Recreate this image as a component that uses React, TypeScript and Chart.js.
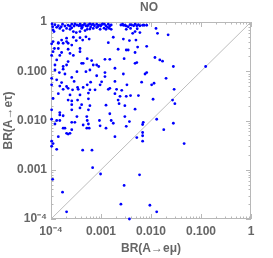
import React, { useEffect, useRef } from "react";
import { Chart, registerables } from "chart.js";

Chart.register(...registerables);

const chartTitle = "NO";
const xAxisTitle = "BR(A→eμ)";
const yAxisTitle = "BR(A→eτ)";
const tickValues = [1e-4, 1e-3, 1e-2, 1e-1, 1];
const tickLabels = ["10⁻⁴", "0.001", "0.010", "0.100", "1"];

// BR(A→eμ)
const brEMu = [
  1.05e-4, 1.08e-4, 1.4e-4, 1.6e-4, 1.9e-4, 2.2e-4, 2.6e-4, 2.9e-4, 3.3e-4, 3.6e-4,
  4.0e-4, 4.4e-4, 5.0e-4, 5.6e-4, 6.0e-4, 6.5e-4, 7.4e-4, 8.2e-4, 9.8e-4, 1.08e-3,
  1.17e-3, 1.26e-3, 1.36e-3, 1.5e-3, 1.6e-3, 2.5e-3, 2.8e-3, 3.2e-3, 3.5e-3, 4.1e-3,
  4.8e-3, 5.2e-3, 6.0e-3, 6.8e-3, 8.2e-3,
  1.2e-4, 1.7e-4, 2.4e-4, 3.0e-4, 3.8e-4, 4.7e-4, 5.3e-4, 7.0e-4, 9.0e-4, 1.02e-3,
  1.4e-3, 2.7e-3, 3.0e-3, 3.8e-3, 4.5e-3, 5.6e-3, 7.3e-3, 1.3e-4, 2.6e-4, 4.2e-4,
  6.2e-4, 8.6e-4, 1.15e-3,
  1.1e-4, 1.15e-4, 1.5e-4, 1.75e-4, 2.05e-4, 2.4e-4, 2.8e-4, 3.2e-4, 3.8e-4, 4.1e-4,
  4.8e-4, 5.3e-4, 6.0e-4, 7.0e-4, 8.2e-4, 9.6e-4, 1.26e-3, 1.47e-3, 1.6e-3, 3.2e-3,
  3.9e-3, 4.3e-3, 4.8e-3, 6.0e-3, 5.3e-3, 1.26e-2, 1.35e-2, 2.2e-2,
  2.8e-3, 1.76e-3, 5.0e-4, 3.8e-4, 2.8e-4, 2.05e-4, 1.63e-4, 1.1e-4, 1.4e-4, 2.05e-4,
  3.2e-4, 4.3e-4, 5.8e-4, 1.4e-3, 3.7e-3, 5.0e-3, 5.4e-3, 8.2e-3, 3.2e-3, 3.5e-3,
  4.8e-3, 1.03e-4, 1.4e-4, 1.75e-4, 2.2e-4, 2.6e-4, 1.17e-4, 1.4e-4, 2.2e-4, 3.8e-4,
  1.1e-4, 1.63e-4, 2.4e-4, 3.8e-4, 2.2e-3,
  1.2e-2, 1.5e-2, 1.7e-2, 5.2e-3, 4.8e-3, 1.5e-3, 1.2e-3, 2.9e-3, 1.03e-4, 1.5e-4,
  2.8e-4, 1.3e-4, 2.2e-4, 4.1e-4, 5.3e-4, 6.5e-4, 7.0e-4, 1.2e-4, 1.75e-4, 2.05e-4,
  4.4e-4, 8.2e-4, 9.0e-4, 1.9e-3, 2.8e-2, 0.124,
  1.2e-4, 1.75e-4, 3.3e-4, 6.0e-4, 8.2e-3, 1.47e-4, 1.9e-4, 5.0e-4, 1.2e-3, 8.2e-4,
  1.2e-3, 2.8e-3, 7.6e-3, 2.0e-2, 2.6e-4, 1.03e-4, 2.9e-4, 5.3e-4, 6.2e-4, 1.03e-3,
  1.9e-3, 1.15e-2, 1.3e-4, 1.63e-4,
  1.03e-4, 1.5e-4, 2.05e-4, 2.2e-4, 3.4e-4, 4.4e-4, 9.6e-4, 1.4e-3, 1.5e-3, 3.3e-3,
  6.5e-3, 1.03e-2, 1.75e-4, 2.7e-4, 3.5e-4, 6.0e-4, 7.6e-4, 2.05e-3, 2.6e-3, 2.9e-2,
  1.1e-4, 1.4e-4, 2.4e-4, 3.8e-4, 5.6e-4, 1.9e-3, 2.4e-3, 3.2e-3, 3.9e-3, 5.6e-3,
  1.1e-2, 2.7e-2, 3.0e-2,
  2.2e-4, 2.6e-4, 3.4e-4, 5.6e-4, 2.2e-3, 2.6e-4, 4.1e-4, 6.0e-4, 1.26e-3, 2.3e-3,
  3.0e-3, 1.03e-4, 1.5e-4, 2.6e-4, 3.8e-4, 5.6e-4, 4.8e-3, 1.5e-4, 1.75e-4, 3.3e-4,
  5.2e-4, 1.5e-3, 3.0e-3,
  1.03e-4, 1.3e-4, 1.5e-4, 2.6e-4, 3.0e-4, 5.3e-4, 9.3e-4, 1.6e-3, 3.7e-3, 7.0e-3,
  1.3e-2, 6.8e-3, 2.8e-2, 1.2e-4, 4.4e-4, 5.6e-4, 9.6e-4, 1.76e-3, 3.2e-3, 1.75e-4,
  1.9e-4, 2.6e-4, 5.2e-4, 5.8e-4, 1.26e-3, 1.8e-2, 1.4e-4, 2.05e-4, 2.2e-4, 2.4e-4,
  1.9e-3, 5.2e-3, 6.8e-3, 6.8e-3, 6.8e-3,
  1.03e-4, 1.1e-4, 4.6e-2, 1.03e-4, 1.3e-4, 4.3e-4, 6.6e-4, 6.8e-4, 9.8e-4, 5.9e-3,
  1.08e-4, 2.9e-3, 1.7e-4, 2.5e-3, 9.5e-3, 2.05e-4, 1.3e-2, 3.7e-3,
];

// BR(A→eτ)
const brETau = [
  0.91, 0.80, 0.84, 0.80, 0.83, 0.86, 0.90, 0.83, 0.87, 0.84,
  0.84, 0.86, 0.84, 0.88, 0.91, 0.88, 0.84, 0.90, 0.83, 0.91,
  0.90, 0.83, 0.78, 0.83, 0.87, 0.87, 0.86, 0.83, 0.80, 0.87,
  0.90, 0.84, 0.84, 0.86, 0.86,
  0.88, 0.90, 0.82, 0.91, 0.90, 0.92, 0.82, 0.90, 0.86, 0.88,
  0.90, 0.90, 0.86, 0.88, 0.84, 0.88, 0.86, 0.78, 0.76, 0.78,
  0.79, 0.80, 0.75,
  0.69, 0.64, 0.74, 0.67, 0.74, 0.71, 0.64, 0.61, 0.64, 0.74,
  0.67, 0.71, 0.72, 0.74, 0.77, 0.71, 0.71, 0.74, 0.71, 0.71,
  0.74, 0.59, 0.64, 0.61, 0.73, 0.74, 0.59, 0.55,
  0.45, 0.49, 0.50, 0.48, 0.49, 0.47, 0.43, 0.40, 0.38, 0.40,
  0.42, 0.43, 0.45, 0.38, 0.42, 0.43, 0.31, 0.32, 0.27, 0.27,
  0.24, 0.36, 0.37, 0.37, 0.37, 0.34, 0.29, 0.29, 0.28, 0.29,
  0.25, 0.24, 0.23, 0.25, 0.28,
  0.19, 0.17, 0.16, 0.15, 0.145, 0.175, 0.175, 0.18, 0.21, 0.21,
  0.21, 0.17, 0.157, 0.145, 0.18, 0.165, 0.134, 0.134, 0.125, 0.134,
  0.145, 0.134, 0.125, 0.115, 0.125, 0.125,
  0.106, 0.11, 0.098, 0.106, 0.094, 0.094, 0.088, 0.098, 0.094, 0.081,
  0.078, 0.088, 0.088, 0.072, 0.075, 0.072, 0.062, 0.053, 0.06, 0.061,
  0.062, 0.057, 0.067, 0.059,
  0.053, 0.05, 0.049, 0.045, 0.047, 0.047, 0.053, 0.043, 0.045, 0.053,
  0.06, 0.053, 0.043, 0.042, 0.043, 0.042, 0.042, 0.043, 0.041, 0.043,
  0.028, 0.035, 0.033, 0.033, 0.036, 0.035, 0.031, 0.031, 0.032, 0.032,
  0.027, 0.026, 0.022,
  0.026, 0.025, 0.026, 0.0275, 0.026, 0.021, 0.021, 0.02, 0.0205, 0.022,
  0.02, 0.0165, 0.0145, 0.0165, 0.018, 0.0165, 0.017, 0.013, 0.0125, 0.012,
  0.012, 0.0137, 0.012,
  0.0106, 0.01, 0.01, 0.0092, 0.0092, 0.01, 0.01, 0.01, 0.0095, 0.0092,
  0.0106, 0.0083, 0.0088, 0.0085, 0.0081, 0.0085, 0.0078, 0.0088, 0.0076, 0.007,
  0.007, 0.0065, 0.007, 0.007, 0.007, 0.0065, 0.0047, 0.0055, 0.0053, 0.0055,
  0.0047, 0.0045, 0.0057, 0.0049, 0.0038,
  0.0038, 0.0034, 0.0034, 0.003, 0.0026, 0.0025, 0.0025, 0.0011, 8.2e-4, 7.9e-4,
  6.4e-4, 4.8e-4, 3.5e-4, 2.0e-4, 1.9e-4, 1.4e-4, 1.4e-4, 1.0e-4,
];

const diagonalX = [1e-4, 1];
const diagonalY = [1e-4, 1];

const FONT = "'Liberation Sans', Arial, sans-serif";
const TEXT = "#666666";
const FRAME = "#b8b8b8";

const framePlugin = {
  id: "framePlugin",
  beforeDatasetsDraw(chart: any) {
    const { ctx, chartArea, scales } = chart;
    const { left, right, top, bottom } = chartArea;
    ctx.save();
    ctx.strokeStyle = FRAME;
    ctx.lineWidth = 1;
    ctx.strokeRect(left + 0.5, top + 0.5, right - left - 1, bottom - top - 1);
    const minor: number[] = [];
    for (let d = -4; d < 0; d++) {
      for (let m = 2; m <= 9; m++) minor.push(m * Math.pow(10, d));
    }
    const drawTicks = (vals: number[], len: number) => {
      ctx.beginPath();
      for (const v of vals) {
        const px = Math.round(scales.x.getPixelForValue(v)) + 0.5;
        ctx.moveTo(px, bottom);
        ctx.lineTo(px, bottom - len);
        ctx.moveTo(px, top);
        ctx.lineTo(px, top + len);
        const py = Math.round(scales.y.getPixelForValue(v)) + 0.5;
        ctx.moveTo(left, py);
        ctx.lineTo(left + len, py);
        ctx.moveTo(right, py);
        ctx.lineTo(right - len, py);
      }
      ctx.stroke();
    };
    drawTicks(tickValues, 5);
    drawTicks(minor, 2.5);
    ctx.restore();
  },
  afterDraw(chart: any) {
    const { ctx, chartArea } = chart;
    ctx.save();
    ctx.fillStyle = TEXT;
    ctx.font = `bold 12px ${FONT}`;
    ctx.textAlign = "center";
    ctx.textBaseline = "middle";
    ctx.fillText(chartTitle, (chartArea.left + chartArea.right) / 2 - 2, 8);
    ctx.restore();
  },
};

export default function App() {
  const ref = useRef<HTMLCanvasElement | null>(null);
  useEffect(() => {
    if (!ref.current) return;
    const points = brEMu.map((x, i) => ({ x, y: brETau[i] }));
    const diag = diagonalX.map((x, i) => ({ x, y: diagonalY[i] }));
    const tickFmt = (v: any) => {
      const i = tickValues.findIndex((t) => Math.abs(Math.log10(t) - Math.log10(Number(v))) < 1e-6);
      return i >= 0 ? tickLabels[i] : "";
    };
    const setTicks = (scale: any) => {
      scale.ticks = tickValues.map((v) => ({ value: v }));
    };
    const chart = new Chart(ref.current, {
      type: "scatter",
      data: {
        datasets: [
          {
            data: points,
            backgroundColor: "#0000ff",
            borderWidth: 0,
            pointRadius: 1.4,
            pointHoverRadius: 1.4,
            clip: false as any,
          },
          {
            type: "line" as any,
            data: diag,
            borderColor: "#bdbdbd",
            borderWidth: 1,
            pointRadius: 0,
            showLine: true,
            fill: false,
          },
        ],
      },
      options: {
        animation: false,
        responsive: false,
        layout: { padding: { top: 22, right: 22, left: 0, bottom: 0 } },
        plugins: { legend: { display: false }, tooltip: { enabled: false }, title: { display: false } },
        scales: {
          x: {
            type: "logarithmic",
            min: 1e-4,
            max: 1,
            afterBuildTicks: setTicks,
            afterFit: (s: any) => { s.height = 39; },
            grid: { display: false, drawTicks: false },
            border: { display: false },
            ticks: {
              callback: tickFmt,
              autoSkip: false,
              maxRotation: 0,
              padding: 5,
              color: TEXT,
              font: { family: FONT, size: 12, weight: "bold" },
            },
            title: {
              display: true,
              text: xAxisTitle,
              color: TEXT,
              font: { family: FONT, size: 12, weight: "bold" },
              padding: { top: 0, bottom: 2 },
            },
          },
          y: {
            type: "logarithmic",
            min: 1e-4,
            max: 1,
            afterBuildTicks: setTicks,
            afterFit: (s: any) => { s.width = 51; },
            grid: { display: false, drawTicks: false },
            border: { display: false },
            ticks: {
              callback: tickFmt,
              autoSkip: false,
              padding: 4,
              color: TEXT,
              font: { family: FONT, size: 12, weight: "bold" },
            },
            title: {
              display: true,
              text: yAxisTitle,
              color: TEXT,
              font: { family: FONT, size: 12, weight: "bold" },
              padding: { top: 1, bottom: 0 },
            },
          },
        },
      },
      plugins: [framePlugin],
    } as any);
    return () => chart.destroy();
  }, []);
  return (
    <div style={{ position: "absolute", left: 0, top: 0, width: 273, height: 258, background: "#fff" }}>
      <canvas ref={ref} width={273} height={258} style={{ display: "block" }} />
    </div>
  );
}
